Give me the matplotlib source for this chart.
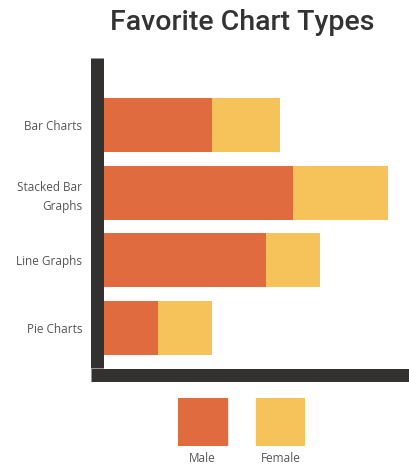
import matplotlib.pyplot as plt
from matplotlib.patches import Rectangle

categories = ["Bar Charts", "Stacked Bar\nGraphs", "Line Graphs", "Pie Charts"]
male = [4, 7, 6, 2]
female = [2.5, 3.5, 2, 2]
series_names = ["Male", "Female"]

MALE_COLOR = "#E06B3E"
FEMALE_COLOR = "#F5C35A"
AXIS_COLOR = "#333030"
TEXT_COLOR = "#555555"

plt.rcParams["font.family"] = ["Open Sans", "DejaVu Sans"]

W, H = 410, 465
fig = plt.figure(figsize=(W / 100, H / 100), dpi=100)

ax = fig.add_axes([104 / W, (H - 368) / H, (W - 104) / W, (368 - 58) / H])

# spines first: set_position resets the tick labels
lw_px = 13
for side in ("top", "right"):
    ax.spines[side].set_visible(False)
for side in ("left", "bottom"):
    sp = ax.spines[side]
    sp.set_linewidth(lw_px * 0.72)
    sp.set_color(AXIS_COLOR)
    sp.set_position(("outward", lw_px * 0.72 / 2))
    sp.set_capstyle("butt")

ypos = list(range(len(categories)))
ax.barh(ypos, male, height=0.8, color=MALE_COLOR, label=series_names[0])
ax.barh(ypos, female, left=male, height=0.8, color=FEMALE_COLOR, label=series_names[1])

ax.set_xlim(0, 11.33)
ax.set_ylim(3.59, -0.99)
ax.spines["bottom"].set_bounds(-lw_px / 27, 11.33)
ax.set_yticks(ypos)
ax.set_yticklabels(categories, fontsize=8.5, color=TEXT_COLOR, linespacing=1.6)
ax.tick_params(axis="y", length=0, pad=11)
ax.set_xticks([])

fig.text(242 / W, 1 - 22 / H, "Favorite Chart Types", ha="center", va="center",
         fontsize=20.5, color="#333333", fontweight="medium",
         family=["Roboto", "DejaVu Sans"])

# legend: squares with labels underneath
lax = fig.add_axes([178 / W, (H - 446) / H, (305 - 178) / W, 48 / H])
lax.set_xlim(0, 127)
lax.set_ylim(0, 1)
lax.axis("off")
for x0, color, name in [(0, MALE_COLOR, series_names[0]), (78, FEMALE_COLOR, series_names[1])]:
    lax.add_patch(Rectangle((x0, 0), 49, 1, color=color))
    lax.text(x0 + 24.5, -0.12, name, ha="center", va="top", fontsize=8.5, color=TEXT_COLOR)

fig.savefig("out.png", dpi=100)
